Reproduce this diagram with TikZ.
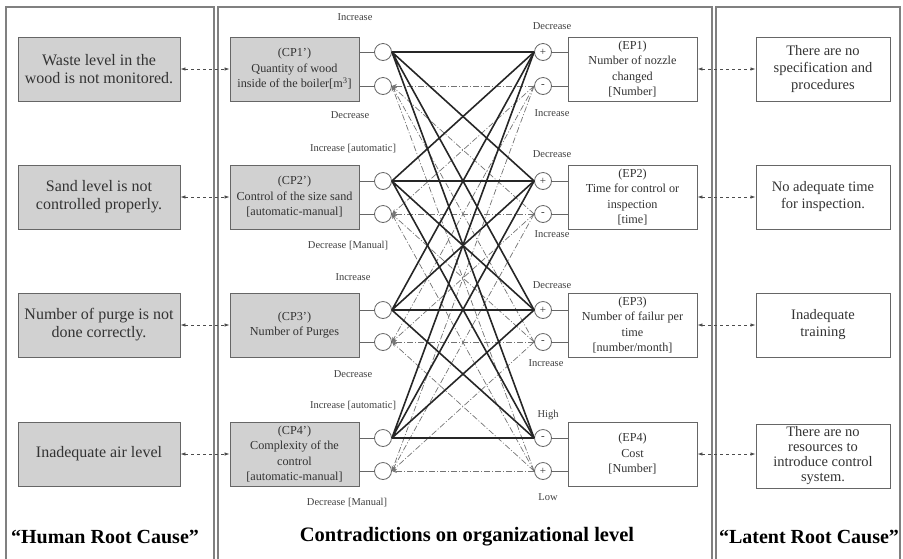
\documentclass[tikz,border=0pt]{standalone}
\usepackage{fontspec}
\setmainfont{Liberation Serif}
\usetikzlibrary{arrows.meta}
\definecolor{boxgray}{gray}{0.82}
\tikzset{
  hbox/.style={draw=black!60,fill=boxgray,line width=0.9pt,minimum width=162pt,minimum height=64pt,align=center,inner sep=2pt,text=black!80,font=\fontsize{16}{18}\selectfont},
  cpbox/.style={hbox,minimum width=129pt,font=\fontsize{12.2}{15.5}\selectfont},
  epbox/.style={cpbox,fill=white},
  rbox/.style={hbox,fill=white,minimum width=134pt,font=\fontsize{14.5}{17}\selectfont},
  knob/.style={circle,draw=black!60,fill=white,line width=0.8pt,minimum size=17pt,inner sep=0pt,text=black!80,font=\fontsize{11}{11}\selectfont},
  sidetag/.style={inner sep=0pt,text=black!75,font=\fontsize{10.5}{12}\selectfont},
  strong/.style={line width=1.6pt,black!85},
  weak/.style={black!55,line width=0.7pt,dash pattern=on 6pt off 2pt on 1pt off 2pt,-{Stealth[length=5pt,width=4pt]}},
  link/.style={black!70,line width=0.8pt,dashed,{Latex[length=5pt,width=3.5pt]}-{Latex[length=5pt,width=3.5pt]}},
  stub/.style={black!60,line width=0.8pt},
  panel/.style={black!50,line width=1.2pt},
  coltitle/.style={inner sep=0pt,font=\bfseries\fontsize{20}{24}\selectfont}
}
\begin{document}
\begin{tikzpicture}[x=1pt,y=-1pt]
\path[use as bounding box] (0,0) rectangle (903,558);
\draw[panel] (6,562) -- (6,7) -- (214,7) -- (214,562);
\draw[panel] (218,562) -- (218,7) -- (712,7) -- (712,562);
\draw[panel] (716,562) -- (716,7) -- (900,7) -- (900,562);

\node[hbox] (h1) at (99,69) {Waste level in the\\wood is not monitored.};
\node[hbox] (h2) at (99,197) {Sand level is not\\controlled properly.};
\node[hbox] (h3) at (99,325) {Number of purge is not\\done correctly.};
\node[hbox] (h4) at (99,454) {Inadequate air level};

\node[cpbox] (cp1) at (294.5,69) {(CP1')\\Quantity of wood\\inside of the boiler[m\textsuperscript{3}]};
\node[cpbox] (cp2) at (294.5,197) {(CP2')\\Control of the size sand\\{[automatic-manual]}};
\node[cpbox] (cp3) at (294.5,325) {(CP3')\\Number of Purges};
\node[cpbox] (cp4) at (294.5,454) {(CP4')\\Complexity of the\\control\\{[automatic-manual]}};

\node[epbox] (ep1) at (632.5,69) {(EP1)\\Number of nozzle\\changed\\{[Number]}};
\node[epbox] (ep2) at (632.5,197) {(EP2)\\Time for control or\\inspection\\{[time]}};
\node[epbox] (ep3) at (632.5,325) {(EP3)\\Number of failur per\\time\\{[number/month]}};
\node[epbox] (ep4) at (632.5,454) {(EP4)\\Cost\\{[Number]}};

\node[rbox] (r1) at (823,69) {There are no\\specification and\\procedures};
\node[rbox] (r2) at (823,197) {No adequate time\\for inspection.};
\node[rbox] (r3) at (823,325) {Inadequate\\training};
\node[rbox,font=\fontsize{14.5}{15}\selectfont] (r4) at (823,456) {There are no\\resources to\\introduce control\\system.};

\node[knob] (cp1t) at (383,52) {};
\node[knob] (cp1b) at (383,86) {};
\node[knob] (cp2t) at (383,181) {};
\node[knob] (cp2b) at (383,214) {};
\node[knob] (cp3t) at (383,310) {};
\node[knob] (cp3b) at (383,342) {};
\node[knob] (cp4t) at (383,438) {};
\node[knob] (cp4b) at (383,471) {};

\node[knob] (ep1t) at (543,52) {+};
\node[knob] (ep1b) at (543,86) {-};
\node[knob] (ep2t) at (543,181) {+};
\node[knob] (ep2b) at (543,214) {-};
\node[knob] (ep3t) at (543,310) {+};
\node[knob] (ep3b) at (543,342) {-};
\node[knob] (ep4t) at (543,438) {-};
\node[knob] (ep4b) at (543,471) {+};

\node[sidetag] (cp1i) at (355,17) {Increase};
\node[sidetag] (cp1d) at (350,115) {Decrease};
\node[sidetag] (cp2i) at (353,149) {Increase [automatic]};
\node[sidetag] (cp2d) at (348,246) {Decrease [Manual]};
\node[sidetag] (cp3i) at (353,277) {Increase};
\node[sidetag] (cp3d) at (353,374) {Decrease};
\node[sidetag] (cp4i) at (353,406) {Increase [automatic]};
\node[sidetag] (cp4d) at (347,503) {Decrease [Manual]};
\node[sidetag] (ep1i) at (552,26) {Decrease};
\node[sidetag] (ep1d) at (552,113) {Increase};
\node[sidetag] (ep2i) at (552,154) {Decrease};
\node[sidetag] (ep2d) at (552,234) {Increase};
\node[sidetag] (ep3i) at (552,285) {Decrease};
\node[sidetag] (ep3d) at (546,363) {Increase};
\node[sidetag] (ep4i) at (548,415) {High};
\node[sidetag] (ep4d) at (548,497) {Low};

\draw[stub] (cp1.east |- cp1t) -- (cp1t) (cp1.east |- cp1b) -- (cp1b);
\draw[stub] (cp2.east |- cp2t) -- (cp2t) (cp2.east |- cp2b) -- (cp2b);
\draw[stub] (cp3.east |- cp3t) -- (cp3t) (cp3.east |- cp3b) -- (cp3b);
\draw[stub] (cp4.east |- cp4t) -- (cp4t) (cp4.east |- cp4b) -- (cp4b);
\draw[stub] (ep1.west |- ep1t) -- (ep1t) (ep1.west |- ep1b) -- (ep1b);
\draw[stub] (ep2.west |- ep2t) -- (ep2t) (ep2.west |- ep2b) -- (ep2b);
\draw[stub] (ep3.west |- ep3t) -- (ep3t) (ep3.west |- ep3b) -- (ep3b);
\draw[stub] (ep4.west |- ep4t) -- (ep4t) (ep4.west |- ep4b) -- (ep4b);

\draw[weak] (ep1b.west) -- (cp1b.east); \draw[weak] (ep2b.west) -- (cp1b.east); \draw[weak] (ep3b.west) -- (cp1b.east); \draw[weak] (ep4b.west) -- (cp1b.east);
\draw[weak] (ep1b.west) -- (cp2b.east); \draw[weak] (ep2b.west) -- (cp2b.east); \draw[weak] (ep3b.west) -- (cp2b.east); \draw[weak] (ep4b.west) -- (cp2b.east);
\draw[weak] (ep1b.west) -- (cp3b.east); \draw[weak] (ep2b.west) -- (cp3b.east); \draw[weak] (ep3b.west) -- (cp3b.east); \draw[weak] (ep4b.west) -- (cp3b.east);
\draw[weak] (ep1b.west) -- (cp4b.east); \draw[weak] (ep2b.west) -- (cp4b.east); \draw[weak] (ep3b.west) -- (cp4b.east); \draw[weak] (ep4b.west) -- (cp4b.east);

\draw[strong] (cp1t.east) -- (ep1t.west) (cp1t.east) -- (ep2t.west) (cp1t.east) -- (ep3t.west) (cp1t.east) -- (ep4t.west);
\draw[strong] (cp2t.east) -- (ep1t.west) (cp2t.east) -- (ep2t.west) (cp2t.east) -- (ep3t.west) (cp2t.east) -- (ep4t.west);
\draw[strong] (cp3t.east) -- (ep1t.west) (cp3t.east) -- (ep2t.west) (cp3t.east) -- (ep3t.west) (cp3t.east) -- (ep4t.west);
\draw[strong] (cp4t.east) -- (ep1t.west) (cp4t.east) -- (ep2t.west) (cp4t.east) -- (ep3t.west) (cp4t.east) -- (ep4t.west);

\draw[link] (h1) -- (cp1);
\draw[link] (h2) -- (cp2);
\draw[link] (h3) -- (cp3);
\draw[link] (h4) -- (cp4);
\draw[link] (ep1) -- (r1);
\draw[link] (ep2) -- (r2);
\draw[link] (ep3) -- (r3);
\draw[link] (ep4) -- (r4.west |- ep4);

\node[coltitle] (hrc) at (105,537) {“Human Root Cause”};
\node[coltitle,font=\bfseries\fontsize{20.5}{24}\selectfont] (col) at (467,537) {Contradictions on organizational level};
\node[coltitle] (lrc) at (809,537) {“Latent Root Cause”};
\end{tikzpicture}
\end{document}
